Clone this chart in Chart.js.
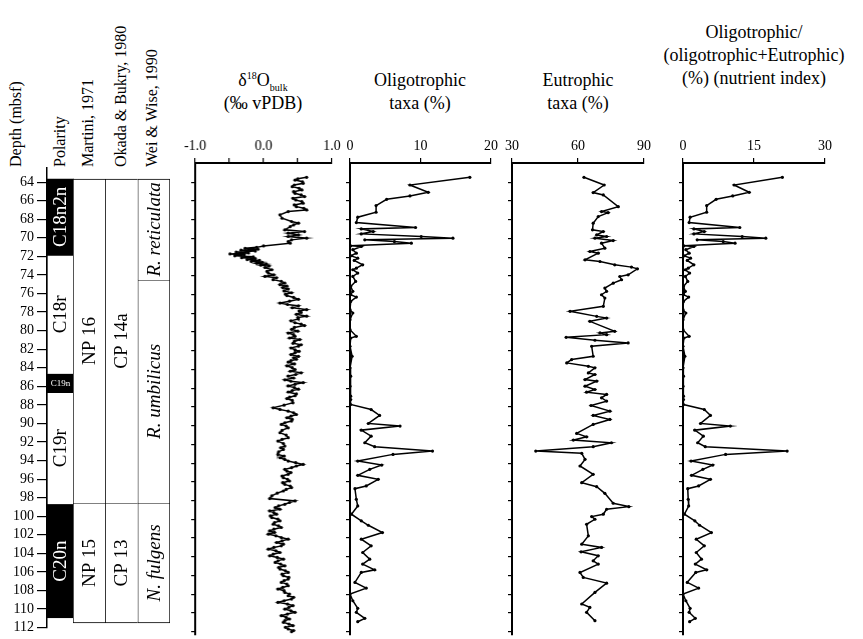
<!DOCTYPE html>
<html>
<head>
<meta charset="utf-8">
<script src="https://cdn.jsdelivr.net/npm/chart.js@4/dist/chart.umd.min.js"></script>
<style>
  body { margin:0; background:#fff; width:863px; height:639px; overflow:hidden; position:relative;
         font-family:"Liberation Serif","Times New Roman",serif; color:#000; }
  canvas { position:absolute; }
  .hdr { position:absolute; white-space:nowrap; font-size:16px; line-height:18px;
         transform-origin:0 0; transform:rotate(-90deg); }
  .ttl { position:absolute; text-align:center; font-size:18px; line-height:23px; white-space:nowrap;
         transform:translateX(-50%); }
  .ttl sup, .ttl sub { font-size:10px; line-height:0; }
</style>
</head>
<body>
<div class="hdr" id="h0"></div>
<div class="hdr" id="h1"></div>
<div class="hdr" id="h2"></div>
<div class="hdr" id="h3"></div>
<div class="hdr" id="h4"></div>

<div class="ttl" id="t1">&delta;<sup>18</sup>O<sub>bulk</sub><br>(&permil; vPDB)</div>
<div class="ttl" id="t2">Oligotrophic<br>taxa (%)</div>
<div class="ttl" id="t3">Eutrophic<br>taxa (%)</div>
<div class="ttl" id="t4">Oligotrophic/<br>(oligotrophic+Eutrophic)<br>(%) (nutrient index)</div>

<canvas id="cDepth"></canvas>
<canvas id="cZones"></canvas>
<canvas id="cD18O"></canvas>
<canvas id="cOligo"></canvas>
<canvas id="cEutro"></canvas>
<canvas id="cIndex"></canvas>

<script>
// ---------- depth axis ----------
const depthTicks = [64,66,68,70,72,74,76,78,80,82,84,86,88,90,92,94,96,98,100,102,104,106,108,110,112];

// ---------- stratigraphic columns ----------
const columnHeaders = ['Depth (mbsf)','Polarity','Martini, 1971','Okada & Bukry, 1980','Wei & Wise, 1990'];
const bioColumns = ['Martini','Okada','Wei'];

const chronNames  = ['C18n2n','C18r','C19n','C19r','C20n'];
const chronTop    = [63.65, 71.85, 84.64, 86.66, 98.70];
const chronBase   = [71.85, 84.64, 86.66, 98.70, 110.96];
const chronNormal = [true, false, true, false, true];

const martiniZones = ['NP 16','NP 15'];
const martiniTop   = [63.65, 98.17];
const martiniBase  = [98.17, 110.96];

const okadaZones = ['CP 14a','CP 13'];
const okadaTop   = [63.65, 98.17];
const okadaBase  = [98.17, 110.96];

const weiZones = ['R. reticulata','R. umbilicus','N. fulgens'];
const weiTop   = [63.65, 74.41, 98.17];
const weiBase  = [74.41, 98.17, 110.96];

// ---------- δ18O bulk (‰ vPDB) ----------
const d18oDepth = [63.47,63.62,63.76,63.94,64.11,64.29,64.47,64.64,64.82,65.0,
  65.18,65.35,65.53,65.71,65.89,66.06,66.24,66.42,66.6,66.78,
  66.95,67.13,67.48,67.84,68.19,68.37,68.55,68.73,69.08,69.26,
  69.44,69.62,69.79,69.97,70.15,70.33,70.5,70.8,70.95,71.05,
  71.15,71.25,71.35,71.45,71.55,71.65,71.75,71.85,71.95,72.05,
  72.15,72.25,72.35,72.45,72.55,72.65,72.75,72.85,72.95,73.1,
  73.34,73.52,73.7,73.88,74.05,74.2,74.4,74.58,74.76,74.93,
  75.1,75.25,75.4,75.6,75.8,75.95,76.1,76.3,76.5,76.7,
  76.9,77.05,77.2,77.4,77.6,77.75,77.9,78.1,78.3,78.45,
  78.6,78.8,79.0,79.15,79.3,79.5,79.7,79.9,80.1,80.28,
  80.45,80.63,80.8,81.0,81.2,81.35,81.5,81.7,81.9,82.05,
  82.2,82.4,82.6,82.75,82.9,83.05,83.2,83.4,83.6,83.8,
  84.0,84.18,84.35,84.53,84.7,84.9,85.1,85.25,85.4,85.58,
  85.75,85.93,86.1,86.25,86.4,86.6,86.8,86.95,87.1,87.3,
  87.55,87.8,88.09,88.26,88.44,88.62,88.8,88.98,89.15,89.33,
  89.5,89.68,89.86,90.04,90.22,90.5,90.75,91.0,91.28,91.46,
  91.64,91.9,92.17,92.35,92.53,92.8,93.06,93.24,93.42,93.6,
  93.77,93.95,94.13,94.3,94.48,94.66,94.84,95.0,95.19,95.37,
  95.55,95.72,95.9,96.08,96.26,96.44,96.61,96.8,96.97,97.2,
  97.5,97.78,98.03,98.2,98.39,98.56,98.74,98.92,99.1,99.28,
  99.45,99.63,99.81,99.98,100.16,100.34,100.52,100.7,100.87,101.05,
  101.23,101.4,101.58,101.76,101.94,102.12,102.3,102.47,102.65,102.83,
  103.0,103.18,103.36,103.54,103.72,103.89,104.07,104.25,104.43,104.6,
  104.78,104.96,105.14,105.31,105.49,105.67,105.85,106.02,106.2,106.38,
  106.55,106.73,106.91,107.09,107.27,107.44,107.62,107.8,107.98,108.16,
  108.33,108.51,108.69,108.87,109.05,109.22,109.4,109.58,109.76,109.93,
  110.11,110.29,110.47,110.64,110.82,111.0,111.18,111.35,111.53,111.71,
  111.88,112.0];
const d18oValue = [0.63,0.50,0.46,0.57,0.58,0.45,0.42,0.52,0.56,0.44,
  0.46,0.55,0.60,0.43,0.47,0.56,0.58,0.45,0.48,0.59,
  0.63,0.36,0.24,0.27,0.41,0.51,0.44,0.39,0.31,0.60,
  0.36,0.51,0.36,0.63,0.41,0.36,0.39,0.00,-0.10,-0.27,
  -0.08,-0.33,-0.12,-0.40,-0.22,-0.49,-0.28,-0.42,-0.15,-0.32,
  -0.12,-0.24,-0.06,-0.18,-0.02,-0.10,0.04,-0.04,0.08,0.02,
  0.12,0.05,0.07,0.15,0.02,0.19,0.14,0.26,0.31,0.24,
  0.34,0.28,0.36,0.30,0.41,0.32,0.34,0.44,0.51,0.38,
  0.24,0.35,0.51,0.42,0.63,0.52,0.55,0.48,0.63,0.50,
  0.51,0.40,0.46,0.55,0.60,0.45,0.41,0.50,0.36,0.44,
  0.46,0.38,0.53,0.45,0.43,0.55,0.51,0.40,0.46,0.52,
  0.46,0.40,0.51,0.44,0.48,0.40,0.36,0.45,0.34,0.42,
  0.46,0.39,0.55,0.47,0.36,0.44,0.31,0.40,0.58,0.46,
  0.36,0.45,0.51,0.42,0.36,0.48,0.46,0.38,0.34,0.42,
  0.43,0.30,0.14,0.24,0.36,0.44,0.48,0.40,0.34,0.42,
  0.41,0.31,0.26,0.33,0.36,0.27,0.24,0.33,0.36,0.27,
  0.21,0.29,0.31,0.25,0.29,0.22,0.21,0.30,0.24,0.31,
  0.36,0.47,0.58,0.48,0.41,0.31,0.34,0.40,0.36,0.27,
  0.29,0.35,0.38,0.28,0.31,0.39,0.41,0.33,0.29,0.20,
  0.12,0.09,0.46,0.38,0.31,0.22,0.17,0.24,0.09,0.15,
  0.19,0.10,0.12,0.21,0.24,0.16,0.14,0.22,0.26,0.15,
  0.09,0.16,0.07,0.18,0.26,0.36,0.27,0.19,0.29,0.26,
  0.15,0.07,0.18,0.24,0.14,0.09,0.20,0.29,0.21,0.17,
  0.25,0.31,0.22,0.24,0.32,0.36,0.27,0.29,0.37,0.36,
  0.30,0.26,0.34,0.36,0.28,0.21,0.30,0.31,0.38,0.36,
  0.44,0.41,0.30,0.21,0.35,0.43,0.37,0.31,0.40,0.46,
  0.35,0.26,0.33,0.38,0.31,0.29,0.37,0.43,0.32,0.36,
  0.44,0.41];
const d18oTickValues = [-1,-0.5,0,0.5,1];
const d18oTickLabels = ['-1.0','','0.0','','1.0'];

// ---------- oligotrophic taxa (%) ----------
const oligoDepth = [63.47,64.29,65.07,65.46,65.82,66.49,67.2,67.73,68.3,68.83,
  68.98,69.26,69.51,69.79,69.97,70.15,70.33,70.5,70.79,70.86,
  71.2,71.57,71.85,72.1,72.35,72.81,73.17,73.34,73.7,74.05,
  74.59,75.12,75.65,76.0,76.26,76.72,77.6,77.96,78.67,79.74,
  80.45,80.63,81.51,82.58,83.82,84.71,85.78,86.84,87.2,87.73,
  88.27,88.9,89.76,90.04,90.47,91.11,91.82,92.24,92.71,93.06,
  93.77,94.2,94.66,95.3,95.72,96.43,96.72,97.86,98.57,99.45,
  100.16,100.63,101.41,102.12,102.83,103.54,104.25,104.78,105.39,105.67,
  106.73,107.34,107.98,108.69,109.5,109.93,110.57,110.93];
const oligoValue = [17.0,8.5,11.1,8.5,5.2,3.7,3.7,1.1,0.9,9.3,
  1.6,3.3,1.6,10.1,14.6,2.1,6.3,8.7,0.1,1.6,
  0.4,0.9,0.1,1.1,0.6,1.8,0.9,0.4,1.1,0.4,
  0.8,0.1,0.4,0.1,0.9,0.1,0.0,0.4,0.0,0.0,
  0.9,0.1,0.0,0.3,0.0,0.1,0.0,0.1,0.1,0.1,
  3.0,4.2,2.6,7.1,1.6,3.0,2.1,3.5,11.7,6.1,
  1.1,4.5,2.8,1.1,4.0,2.3,0.7,0.9,1.1,0.2,
  1.6,2.6,4.6,1.6,3.0,1.8,2.8,1.8,3.5,1.6,
  0.7,2.3,0.0,0.4,1.1,0.9,2.1,1.1];
const oligoTickValues = [0,10,20];
const oligoTickLabels = ['0','10','20'];

// ---------- eutrophic taxa (%) ----------
const eutroDepth = [63.47,64.29,65.1,65.35,66.6,67.13,67.24,67.66,68.37,69.08,
  69.26,69.62,69.79,69.97,70.22,70.5,71.04,71.39,71.57,72.28,
  72.46,72.81,73.06,73.24,73.88,74.06,74.41,74.77,75.3,75.65,
  76.01,76.36,77.25,77.78,78.32,78.5,78.85,79.92,80.09,80.27,
  80.56,80.87,81.16,81.51,82.58,82.93,83.29,83.65,83.82,84.36,
  84.53,85.07,85.24,85.78,86.13,86.42,86.66,87.02,87.37,87.84,
  88.44,88.9,89.33,89.86,90.82,91.18,91.53,91.82,92.24,92.71,
  92.95,93.59,94.3,95.19,96.08,96.51,97.22,98.28,98.64,98.92,
  99.45,99.7,99.99,100.52,101.76,102.65,103.0,103.47,103.89,104.43,
  104.78,105.67,106.2,106.81,107.8,109.04,109.4,109.93,110.82];
const eutroValue = [62.7,71.9,66.9,71.5,78.3,70.7,73.7,69.2,66.9,66.6,
  71.5,68.5,73.0,67.7,76.0,70.7,72.2,65.4,69.2,63.2,
  70.0,76.7,84.3,87.0,82.8,79.0,79.8,76.0,72.2,73.0,
  70.7,72.2,71.5,56.4,68.5,73.0,65.4,76.7,70.0,73.0,
  54.6,67.7,82.8,66.2,66.9,57.1,54.9,64.7,67.7,64.7,
  67.7,63.2,68.5,63.2,67.7,63.9,73.0,70.7,73.0,65.9,
  74.5,66.9,74.5,66.9,59.4,63.9,57.9,75.2,66.9,40.8,
  61.7,63.2,60.9,66.9,61.7,68.5,72.2,76.0,83.1,73.0,
  71.5,66.2,67.7,63.9,64.7,61.7,70.7,61.4,69.2,66.9,
  69.2,60.9,62.4,73.0,67.7,61.7,65.4,63.9,67.7];
const eutroTickValues = [30,60,90];
const eutroTickLabels = ['30','60','90'];

// ---------- nutrient index (%) : same samples as the oligotrophic counts ----------
const indexDepth = oligoDepth;
const indexValue = [21.0,10.8,14.0,10.5,7.0,5.0,5.0,1.5,1.3,12.0,
  2.3,4.5,2.3,12.5,17.5,3.0,8.5,11.0,0.2,2.3,
  0.6,1.3,0.2,1.6,0.9,2.3,1.1,0.5,1.4,0.5,
  1.0,0.1,0.5,0.1,1.2,0.1,0.0,0.6,0.0,0.0,
  1.3,0.2,0.0,0.4,0.0,0.1,0.0,0.1,0.1,0.1,
  4.5,5.8,3.7,10.0,2.5,4.3,3.1,4.7,22.0,9.0,
  1.7,6.3,4.2,1.8,5.8,3.3,1.0,1.1,1.2,0.3,
  2.5,3.5,6.0,2.8,4.5,2.8,3.9,2.6,5.0,2.7,
  0.9,3.3,0.0,0.6,1.5,1.3,2.6,1.4];
const indexTickValues = [0,15,30];
const indexTickLabels = ['0','15','30'];

// ================= layout =================
const FONT = '"Liberation Serif","Times New Roman",serif';
const PLOT_TOP = 163, PLOT_BOTTOM = 636;
const PANEL_DEPTH_MIN = 61.94, PANEL_DEPTH_MAX = 112.35;
const COLUMN_DEPTH_MIN = 62.48, COLUMN_DEPTH_MAX = 112;
const PAD_L = 30, PAD_T = 35, PAD_R = 22, PAD_B = 3;

// rotated column headers
const hdrX = [16, 60, 88, 121, 152];
columnHeaders.forEach((txt, i) => {
  const el = document.getElementById('h' + i);
  el.textContent = txt;
  el.style.left = (hdrX[i] - 9) + 'px';
  el.style.top = '167px';
});

// panel titles
function placeTitle(id, cx, top) {
  const el = document.getElementById(id);
  el.style.left = cx + 'px';
  el.style.top = top + 'px';
}
placeTitle('t1', 263, 69);
placeTitle('t2', 420, 69);
placeTitle('t3', 578, 69);
placeTitle('t4', 754, 21);

function sizeCanvas(cv, left, top, w, h) {
  cv.width = w; cv.height = h;
  cv.style.left = left + 'px'; cv.style.top = top + 'px';
  cv.style.width = w + 'px'; cv.style.height = h + 'px';
}

function profilePoints(depths, values) {
  const n = Math.min(depths.length, values.length);
  const pts = [];
  for (let i = 0; i < n; i++) pts.push({ x: values[i], y: depths[i] });
  return pts;
}

function makePanel(id, plotLeft, plotRight, xMin, xMax, tickValues, tickLabels, depths, values) {
  const cv = document.getElementById(id);
  const w = PAD_L + (plotRight - plotLeft) + PAD_R;
  const h = PAD_T + (PLOT_BOTTOM - PLOT_TOP) + PAD_B;
  sizeCanvas(cv, plotLeft - PAD_L, PLOT_TOP - PAD_T, w, h);
  return new Chart(cv, {
    type: 'scatter',
    data: { datasets: [{
      data: profilePoints(depths, values),
      showLine: true,
      borderColor: '#000',
      borderWidth: 1.5,
      pointRadius: 1.6,
      pointBackgroundColor: '#000',
      pointBorderWidth: 0,
      tension: 0
    }]},
    options: {
      responsive: false, animation: false, devicePixelRatio: 1,
      layout: { padding: { left: 0, right: PAD_R, top: 0, bottom: PAD_B } },
      plugins: { legend: { display: false }, tooltip: { enabled: false } },
      scales: {
        x: {
          type: 'linear', position: 'top', min: xMin, max: xMax,
          afterBuildTicks: s => { s.ticks = tickValues.map(v => ({ value: v })); },
          afterFit: s => { s.height = PAD_T; },
          ticks: { callback: (v, i) => tickLabels[i], font: { family: FONT, size: 14 },
                   color: '#000', padding: 3, maxRotation: 0, autoSkip: false },
          grid: { drawOnChartArea: false, drawTicks: true, tickLength: 5, color: '#000', lineWidth: 1.2 },
          border: { display: true, color: '#000', width: 2 }
        },
        y: {
          type: 'linear', position: 'left', reverse: true,
          min: PANEL_DEPTH_MIN, max: PANEL_DEPTH_MAX,
          afterBuildTicks: s => { s.ticks = depthTicks.map(v => ({ value: v })); },
          afterFit: s => { s.width = PAD_L; },
          ticks: { display: false },
          grid: { drawOnChartArea: false, drawTicks: true, tickLength: 4, color: '#000', lineWidth: 1.2 },
          border: { display: true, color: '#000', width: 2 }
        }
      }
    }
  });
}

// ================= stratigraphic units as floating bars =================
function unitDatasets(nCols, col, names, tops, bases, fills, italic, labels, rightEdge) {
  const sets = [];
  names.forEach((name, i) => {
    const data = new Array(nCols).fill(null);
    data[col] = [tops[i], bases[i]];
    const dark = fills ? fills[i] : false;
    sets.push({
      data,
      backgroundColor: dark ? '#000' : '#fff',
      borderColor: '#000',
      borderWidth: { top: 1, left: 1, right: rightEdge ? 1 : 0, bottom: i === names.length - 1 ? 1 : 0 },
      borderSkipped: false,
      grouped: false,
      barPercentage: 1,
      categoryPercentage: 1
    });
    labels.push({ col, text: name, dark, italic });
  });
  return sets;
}

function zoneTextPlugin(labels) {
  return {
    id: 'zoneText',
    afterDatasetsDraw(chart) {
      const ctx = chart.ctx;
      labels.forEach((z, k) => {
        const el = chart.getDatasetMeta(k).data[z.col];
        if (!el) return;
        const cx = el.x, cy = (el.y + el.base) / 2;
        const span = Math.abs(el.base - el.y);
        ctx.save();
        ctx.fillStyle = z.dark ? '#fff' : '#000';
        ctx.textAlign = 'center';
        ctx.textBaseline = 'middle';
        ctx.translate(cx, cy);
        if (span < 30) {
          ctx.font = '9px ' + FONT;           // thin chron: small horizontal label
        } else {
          ctx.rotate(-Math.PI / 2);
          ctx.font = (z.italic ? 'italic ' : '') + '19px ' + FONT;
        }
        ctx.fillText(z.text, 0, 1);
        ctx.restore();
      });
    }
  };
}

// depth axis + polarity column
(function makeDepthChart() {
  const cv = document.getElementById('cDepth');
  sizeCanvas(cv, 0, 150, 74, 489);
  const labels = [];
  const sets = unitDatasets(1, 0, chronNames, chronTop, chronBase, chronNormal, false, labels, true);
  new Chart(cv, {
    type: 'bar',
    data: { labels: ['Polarity'], datasets: sets },
    options: {
      responsive: false, animation: false, devicePixelRatio: 1,
      layout: { padding: { left: 0, right: 0, top: 18, bottom: 6.3 } },
      plugins: { legend: { display: false }, tooltip: { enabled: false } },
      scales: {
        x: { display: false },
        y: {
          type: 'linear', position: 'left', reverse: true, min: COLUMN_DEPTH_MIN, max: COLUMN_DEPTH_MAX,
          afterBuildTicks: s => { s.ticks = depthTicks.map(v => ({ value: v })); },
          afterFit: s => { s.width = 47; },
          ticks: { font: { family: FONT, size: 14 }, color: '#000', padding: 3, autoSkip: false },
          grid: { drawOnChartArea: false, drawTicks: true, tickLength: 10, color: '#000', lineWidth: 1.2 },
          border: { display: true, color: '#000', width: 1.5 }
        }
      }
    },
    plugins: [zoneTextPlugin(labels)]
  });
})();

// biostratigraphic columns
(function makeZoneChart() {
  const cv = document.getElementById('cZones');
  sizeCanvas(cv, 73, 150, 98, 489);
  const labels = [];
  const n = bioColumns.length;
  const sets = [
    ...unitDatasets(n, 0, martiniZones, martiniTop, martiniBase, null, false, labels, false),
    ...unitDatasets(n, 1, okadaZones, okadaTop, okadaBase, null, false, labels, false),
    ...unitDatasets(n, 2, weiZones, weiTop, weiBase, null, true, labels, true)
  ];
  new Chart(cv, {
    type: 'bar',
    data: { labels: bioColumns, datasets: sets },
    options: {
      responsive: false, animation: false, devicePixelRatio: 1,
      layout: { padding: { left: 0, right: 1, top: 18, bottom: 6.3 } },
      plugins: { legend: { display: false }, tooltip: { enabled: false } },
      scales: {
        x: { display: false },
        y: { display: false, type: 'linear', reverse: true, min: COLUMN_DEPTH_MIN, max: COLUMN_DEPTH_MAX }
      }
    },
    plugins: [zoneTextPlugin(labels)]
  });
})();

// ================= profile panels =================
makePanel('cD18O', 195, 331.7, -1, 1, d18oTickValues, d18oTickLabels, d18oDepth, d18oValue);
makePanel('cOligo', 350, 491, 0, 20, oligoTickValues, oligoTickLabels, oligoDepth, oligoValue);
makePanel('cEutro', 511.7, 644.3, 30, 90, eutroTickValues, eutroTickLabels, eutroDepth, eutroValue);
makePanel('cIndex', 683, 825, 0, 30, indexTickValues, indexTickLabels, indexDepth, indexValue);
</script>
</body>
</html>
